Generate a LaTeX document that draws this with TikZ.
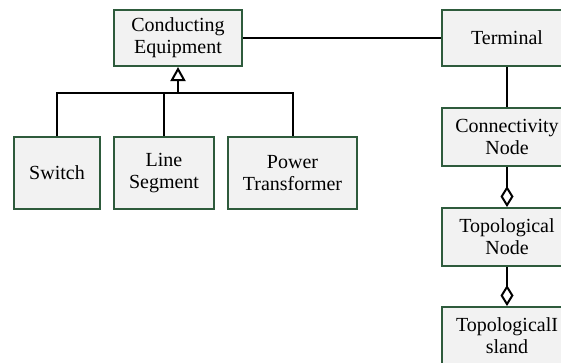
\documentclass[tikz,border=0pt]{standalone}
\usepackage{fontspec}
\setmainfont{Liberation Serif}
\newfontfamily\boxfont{Liberation Serif}
\usetikzlibrary{arrows.meta}
\definecolor{boxedge}{HTML}{2E5B3C}
\definecolor{boxfill}{HTML}{F2F2F2}
\begin{document}
\begin{tikzpicture}[x=1pt,y=-1pt,
  cls/.style={draw=boxedge,fill=boxfill,line width=2pt,inner sep=0pt,align=center,
    font=\boxfont\fontsize{20}{22}\selectfont},
  conn/.style={line width=2pt,draw=black}]
\useasboundingbox (0,0) rectangle (561,362);
\clip (0,0) rectangle (561,362);
\node[cls,minimum width=128,minimum height=56] (ce) at (178,38) {Conducting\\Equipment};
\node[cls,minimum width=86,minimum height=72] (sw) at (57,173) {Switch};
\node[cls,minimum width=100,minimum height=72] (ls) at (164,173) {Line\\Segment};
\node[cls,minimum width=129,minimum height=72] (pt) at (292.5,173) {Power\\Transformer};
\node[cls,minimum width=130,minimum height=56] (te) at (507,38) {Terminal};
\node[cls,minimum width=130,minimum height=58] (cn) at (507,137) {Connectivity\\Node};
\node[cls,minimum width=130,minimum height=58] (tn) at (507,237) {Topological\\Node};
\node[cls,minimum width=130,minimum height=58] (ti) at (507,336) {TopologicalI\\sland};
\coordinate (bar) at (178,93);
\draw[conn] (sw.north) |- (bar) -| (pt.north);
\draw[conn] (ls.north) -- (ls.north |- bar);
\draw[conn,-{Triangle[open,length=14,width=15,line width=2pt]}] (bar) -- (ce.south);
\draw[conn] (ce.east) -- (te.west);
\draw[conn] (te.south) -- (cn.north);
\draw[conn,-{Diamond[open,length=21,width=13,line width=2pt]}] (cn.south) -- (tn.north);
\draw[conn,-{Diamond[open,length=21,width=13,line width=2pt]}] (tn.south) -- (ti.north);
\end{tikzpicture}
\end{document}
